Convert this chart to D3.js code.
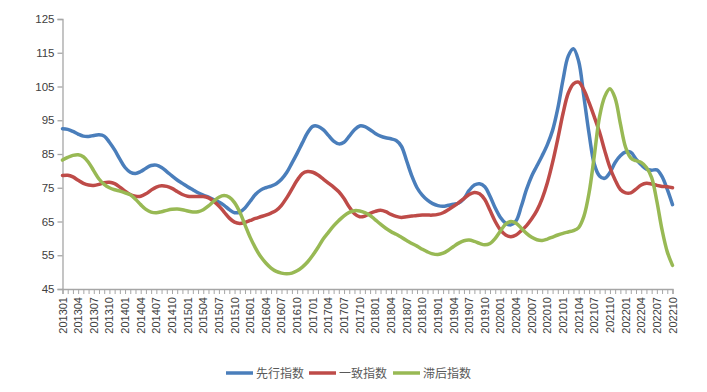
<!DOCTYPE html>
<html><head><meta charset="utf-8">
<script src="https://cdn.jsdelivr.net/npm/d3@7"></script>
<style>
html,body{margin:0;padding:0;background:#fff;}
svg{display:block;}
</style></head>
<body>
<svg id="chart" width="707" height="392"></svg>
<script>
// ---- data ----
const months = [];
for (let yr = 2013; yr <= 2022; yr++) {
  for (let m = 1; m <= 12; m++) {
    if (yr === 2022 && m > 10) break;
    months.push(String(yr) + String(m).padStart(2, "0"));
  }
}
const seriesNames = ["先行指数", "一致指数", "滞后指数"];
const seriesColors = ["#4A7EBB", "#BE4B48", "#98B954"];
const yTicks = [45, 55, 65, 75, 85, 95, 105, 115, 125];

const leading = [
  92.5,92.3,91.7,90.9,90.3,90.2,90.5,90.7,90.3,88.5,86.2,83.5,
  81.0,79.6,79.2,79.8,80.8,81.6,81.7,81.0,79.8,78.5,77.3,76.3,
  75.3,74.4,73.5,72.8,72.2,71.5,70.8,69.8,68.5,67.6,67.8,69.0,
  71.0,73.0,74.3,75.0,75.5,76.2,77.5,79.5,82.3,85.2,88.3,91.3,
  93.2,93.2,92.2,90.5,88.8,88.0,88.5,90.3,92.2,93.3,93.1,92.2,
  91.1,90.3,89.8,89.5,89.0,87.3,83.0,78.5,75.0,72.8,71.3,70.3,
  69.7,69.5,69.8,70.1,70.5,71.8,74.2,75.8,76.2,75.3,72.5,69.0,
  66.2,64.5,64.0,65.2,69.5,74.5,78.5,81.5,84.5,87.8,92.0,98.5,
  107.0,114.0,116.2,112.5,102.0,91.0,82.0,78.5,77.8,79.5,82.5,84.5,
  85.6,85.5,83.5,81.8,80.5,80.2,80.3,78.3,74.5,70.0
];
const coincident = [
  78.6,78.7,78.2,77.2,76.3,75.8,75.7,76.0,76.5,76.6,76.2,75.2,
  74.0,73.0,72.5,72.5,73.2,74.3,75.2,75.6,75.4,74.8,73.9,73.0,
  72.5,72.4,72.4,72.4,72.0,71.0,69.6,67.8,66.0,64.8,64.4,64.7,
  65.3,65.9,66.4,66.9,67.5,68.3,69.8,72.0,74.6,77.2,79.2,79.8,
  79.6,78.8,77.6,76.4,75.2,73.8,71.8,69.3,67.3,66.4,66.6,67.4,
  68.0,68.3,67.9,67.1,66.5,66.2,66.4,66.6,66.8,66.9,66.9,66.9,
  67.1,67.6,68.5,69.5,70.6,71.8,73.0,73.6,73.2,71.5,68.3,65.0,
  62.5,61.0,60.5,61.0,62.3,63.8,65.8,68.3,71.8,76.5,82.5,89.5,
  97.0,103.0,105.8,106.3,104.0,100.2,96.0,91.5,86.0,81.0,77.3,74.5,
  73.5,73.5,74.6,75.8,76.3,76.1,75.7,75.4,75.3,75.0
];
const lagging = [
  83.2,84.0,84.6,84.8,84.2,82.5,80.0,77.6,76.0,75.0,74.4,74.0,
  73.5,72.9,71.6,70.0,68.6,67.8,67.6,67.9,68.3,68.6,68.7,68.5,
  68.1,67.8,67.9,68.5,69.6,71.0,72.2,72.7,72.2,70.6,67.8,64.0,
  60.3,57.2,54.6,52.7,51.2,50.2,49.7,49.5,49.7,50.4,51.5,53.0,
  55.0,57.3,59.8,61.8,63.7,65.3,66.7,67.7,68.2,68.1,67.6,66.8,
  65.5,64.2,63.0,62.0,61.2,60.3,59.4,58.5,57.7,56.8,56.0,55.4,
  55.2,55.6,56.5,57.6,58.6,59.3,59.5,59.1,58.5,58.1,58.5,60.0,
  62.2,64.2,65.0,64.5,63.0,61.5,60.3,59.6,59.4,59.8,60.4,61.0,
  61.5,61.9,62.3,63.2,66.5,73.5,84.5,96.0,102.0,104.3,101.5,94.0,
  87.0,83.8,83.0,82.5,81.0,78.0,71.0,62.5,56.0,52.0
];
const seriesValues = [leading, coincident, lagging];

// ---- chart ----
const svg = d3.select("#chart");
const plotLeft = 62.5, plotRight = 672.5, plotTop = 19, plotBottom = 289;

const x = d3.scalePoint().domain(months).range([plotLeft, plotRight]);
const y = d3.scaleLinear().domain([45, 125]).range([plotBottom, plotTop]);

const axisColor = "#A6A6A6";
const textColor = "#404040";

// y axis
const yAxis = svg.append("g").attr("transform", `translate(${plotLeft},0)`)
  .call(d3.axisLeft(y).tickValues(yTicks).tickSize(5).tickPadding(3));
yAxis.select(".domain").attr("stroke", axisColor).attr("stroke-width", 1.3);
yAxis.selectAll(".tick line").attr("stroke", axisColor).attr("stroke-width", 1.3);
yAxis.selectAll("text").attr("fill", textColor)
  .style("font-family", "'Liberation Sans', Arial, sans-serif").style("font-size", "11.5px");

// x axis
const xAxis = svg.append("g").attr("transform", `translate(0,${plotBottom})`)
  .call(d3.axisBottom(x).tickValues(months).tickSize(5).tickFormat(""));
xAxis.select(".domain").attr("stroke", axisColor).attr("stroke-width", 1.3);
xAxis.selectAll(".tick line").attr("stroke", axisColor).attr("stroke-width", 1);

const labelMonths = months.filter((d, i) => i % 3 === 0);
svg.append("g").selectAll("text").data(labelMonths).join("text")
  .attr("transform", d => `translate(${x(d) + 4},${plotBottom + 8}) rotate(-90)`)
  .attr("text-anchor", "end")
  .attr("fill", textColor)
  .style("font-family", "'Liberation Sans', Arial, sans-serif")
  .style("font-size", "11px")
  .text(d => d);

// lines
const line = d3.line()
  .x((d, i) => x(months[i]))
  .y(d => y(d))
  .curve(d3.curveCatmullRom.alpha(0.5));

svg.append("g").selectAll("path").data(seriesValues).join("path")
  .attr("d", d => line(d))
  .attr("fill", "none")
  .attr("stroke", (d, i) => seriesColors[i])
  .attr("stroke-width", 3.5)
  .attr("stroke-linejoin", "round")
  .attr("stroke-linecap", "round");

// legend
const legendX = [226, 309, 393];
const lg = svg.append("g");
seriesNames.forEach((name, i) => {
  lg.append("line")
    .attr("x1", legendX[i]).attr("x2", legendX[i] + 27)
    .attr("y1", 373).attr("y2", 373)
    .attr("stroke", seriesColors[i]).attr("stroke-width", 3.5);
  lg.append("text")
    .attr("x", legendX[i] + 30).attr("y", 377.5)
    .attr("fill", "#595959")
    .style("font-family", "'Noto Sans CJK SC', sans-serif")
    .style("font-size", "12px")
    .text(name);
});
</script>
</body></html>
